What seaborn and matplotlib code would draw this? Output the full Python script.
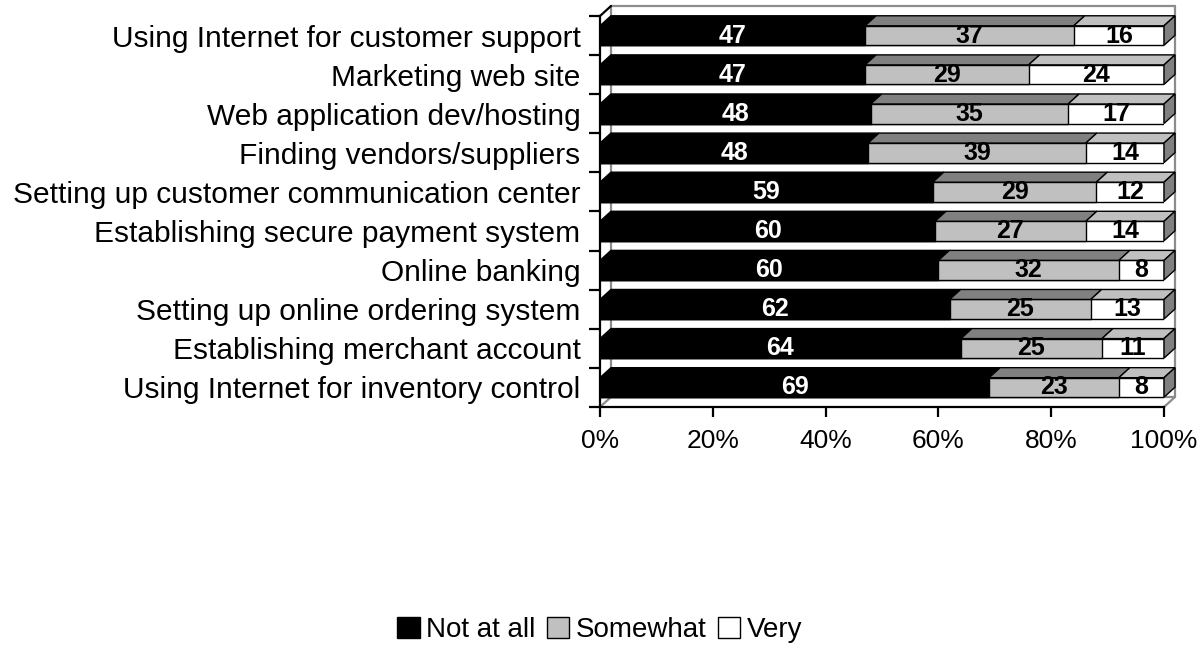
import numpy as np
import pandas as pd
import matplotlib
matplotlib.use("Agg")
import matplotlib.pyplot as plt
import seaborn as sns
from matplotlib.patches import Polygon, Patch
from matplotlib.lines import Line2D

categories = [
    "Using Internet for customer support",
    "Marketing web site",
    "Web application dev/hosting",
    "Finding vendors/suppliers",
    "Setting up customer communication center",
    "Establishing secure payment system",
    "Online banking",
    "Setting up online ordering system",
    "Establishing merchant account",
    "Using Internet for inventory control",
]
not_at_all = [47, 47, 48, 48, 59, 60, 60, 62, 64, 69]
somewhat = [37, 29, 35, 39, 29, 27, 32, 25, 25, 23]
very = [16, 24, 17, 14, 12, 14, 8, 13, 11, 8]
series_names = ["Not at all", "Somewhat", "Very"]
x_ticks = [0, 20, 40, 60, 80, 100]
x_tick_labels = ["0%", "20%", "40%", "60%", "80%", "100%"]

front_colors = ["#000000", "#C0C0C0", "#FFFFFF"]
top_colors = ["#000000", "#808080", "#C0C0C0"]
side_color = "#808080"
text_colors = ["white", "black", "black"]

sns.set_theme(style="white")
plt.rcParams["font.family"] = ["Liberation Sans", "DejaVu Sans"]
plt.rcParams["text.color"] = "black"
plt.rcParams["xtick.color"] = "black"
plt.rcParams["ytick.color"] = "black"
plt.rcParams["xtick.labelcolor"] = "black"
plt.rcParams["ytick.labelcolor"] = "black"

df = pd.DataFrame({"category": categories, "Not at all": not_at_all,
                   "Somewhat": somewhat, "Very": very})
total = df[series_names].sum(axis=1)
pct = df[series_names].div(total, axis=0) * 100
cum = pct.cumsum(axis=1)

W, H = 1204, 646
fig = plt.figure(figsize=(W / 100, H / 100), dpi=100)
ax_left, ax_right = 600, 1164
ax_top, ax_bot = 16, 407
ax = fig.add_axes([ax_left / W, 1 - ax_bot / H, (ax_right - ax_left) / W, (ax_bot - ax_top) / H])

bar_w = 0.5
layers = []
# draw from the largest cumulative (back) to the smallest (front)
for k in [2, 1, 0]:
    n0 = len(ax.patches)
    sns.barplot(x=cum[series_names[k]].values, y=df["category"], orient="h",
                color=front_colors[k], saturation=1, edgecolor="black",
                linewidth=1.0, width=bar_w, ax=ax, zorder=3)
    layers.append((k, ax.patches[n0:]))
layers = dict(layers)

ax.set_xlim(0, 100)
ax.set_ylim(len(categories) - 0.5, -0.5)

# 3D depth in data units
dx_px, dy_px = 11, 10
ddx = dx_px / (ax_right - ax_left) * 100
ddy = dy_px / ((ax_bot - ax_top) / len(categories))

# back walls / floor
xl0, xl1 = ax.get_xlim()
yb, yt = ax.get_ylim()
wall = "#8c8c8c"
segs = [
    ((xl0 + ddx, yt - ddy), (xl1 + ddx, yt - ddy), wall),
    ((xl1 + ddx, yt - ddy), (xl1 + ddx, yb - ddy), wall),
    ((xl0 + ddx, yb - ddy), (xl1 + ddx, yb - ddy), wall),
    ((xl1, yb), (xl1 + ddx, yb - ddy), wall),
    ((xl0, yb), (xl0 + ddx, yb - ddy), wall),
    ((xl0 + ddx, yt - ddy), (xl0 + ddx, yb - ddy), wall),
    ((xl0, yt), (xl0 + ddx, yt - ddy), "black"),
]
for (a, b, c) in segs:
    ax.add_line(Line2D([a[0], b[0]], [a[1], b[1]], color=c, lw=1.6,
                       clip_on=False, zorder=1))

# 3D faces for each segment
for i in range(len(categories)):
    prev_right = 0.0
    for k in range(3):
        p = layers[k][i]
        x1 = p.get_x() + p.get_width()
        x0 = prev_right
        y0 = p.get_y()
        h = p.get_height()
        ytop, ybot = min(y0, y0 + h), max(y0, y0 + h)
        top = Polygon([(x0, ytop), (x1, ytop), (x1 + ddx, ytop - ddy), (x0 + ddx, ytop - ddy)],
                      closed=True, facecolor=top_colors[k], edgecolor="black", lw=1.0,
                      clip_on=False, zorder=4)
        ax.add_patch(top)
        if k == 2:
            side = Polygon([(x1, ytop), (x1 + ddx, ytop - ddy), (x1 + ddx, ybot - ddy), (x1, ybot)],
                           closed=True, facecolor=side_color, edgecolor="black", lw=1.0,
                           clip_on=False, zorder=4)
            ax.add_patch(side)
        vals = [not_at_all, somewhat, very][k]
        ax.text((x0 + x1) / 2, (ytop + ybot) / 2, str(vals[i]), ha="center", va="center",
                color=text_colors[k], fontsize=18, fontweight="bold", zorder=6)
        prev_right = x1

# axes styling
for s in ["top", "right"]:
    ax.spines[s].set_visible(False)
for s in ["left", "bottom"]:
    ax.spines[s].set_color("black")
    ax.spines[s].set_linewidth(1.6)
    ax.spines[s].set_zorder(5)
ax.set_xticks(x_ticks)
ax.set_xticklabels(x_tick_labels, fontsize=19, color="black")
ax.tick_params(axis="x", direction="out", length=7, width=1.6, color="black", pad=9, bottom=True)
ax.set_yticks(range(len(categories)))
ax.set_yticklabels(categories, fontsize=21.5, color="black")
ax.tick_params(axis="y", which="major", length=0, pad=14)
ax.set_yticks(np.arange(-0.5, len(categories), 1.0), minor=True)
ax.tick_params(axis="y", which="minor", direction="out", length=8, width=1.6, color="black", left=True)
ax.set_xlabel("")
ax.set_ylabel("")
ax.grid(False)
ax.set_facecolor("white")
ax.patch.set_alpha(0)

handles = [Patch(facecolor=front_colors[k], edgecolor="black", lw=1.0, label=series_names[k]) for k in range(3)]
leg = fig.legend(handles=handles, loc="center", bbox_to_anchor=(600 / W, 1 - 630 / H), ncol=3,
                 frameon=False, fontsize=20, handlelength=0.8, handleheight=0.8,
                 handletextpad=0.25, columnspacing=0.4, borderaxespad=0)
for t in leg.get_texts():
    t.set_color("black")

fig.savefig("out.png", dpi=100, facecolor="white")
